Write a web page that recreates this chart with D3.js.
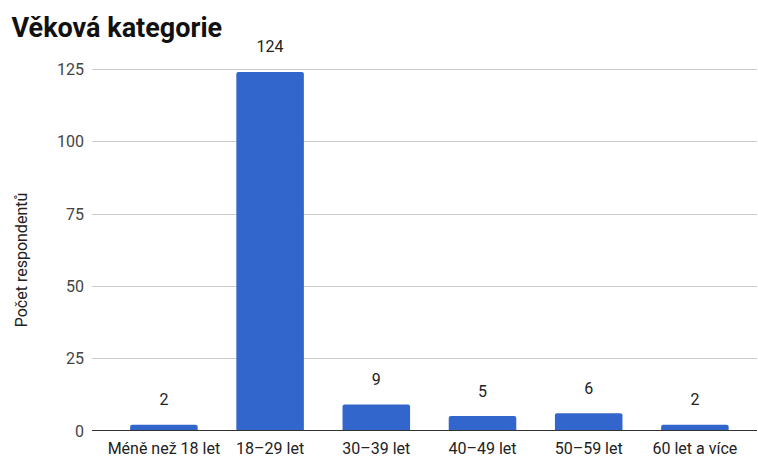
<!DOCTYPE html>
<html>
<head>
<meta charset="utf-8">
<script src="https://cdn.jsdelivr.net/npm/d3@7"></script>
<style>
  body { margin: 0; background: #fff; }
  text { font-family: Roboto, "Noto Sans", sans-serif; }
</style>
</head>
<body>
<div id="chart"></div>
<script>
// data
const categories = ["Méně než 18 let", "18–29 let", "30–39 let", "40–49 let", "50–59 let", "60 let a více"];
const counts = [2, 124, 9, 5, 6, 2];
const yTicks = [0, 25, 50, 75, 100, 125];

const width = 758,
  height = 458;

const svg = d3.select("#chart")
  .append("svg")
  .attr("width", width)
  .attr("height", height);

// scales
const x = d3.scaleBand()
  .domain(categories)
  .range([110.8, 748])
  .paddingInner(0.364)
  .paddingOuter(0.182);

const y = d3.scaleLinear()
  .domain([0, 125])
  .range([430.5, 69]);

// gridlines
svg.append("g")
  .selectAll("line")
  .data(yTicks.filter(d => d !== 0))
  .join("line")
  .attr("x1", 92)
  .attr("x2", 757)
  .attr("y1", d => Math.round(y(d)) + 0.5)
  .attr("y2", d => Math.round(y(d)) + 0.5)
  .attr("stroke", "#cccccc")
  .attr("stroke-width", 1);

// y tick labels
svg.append("g")
  .selectAll("text")
  .data(yTicks)
  .join("text")
  .attr("x", 84)
  .attr("y", d => y(d) + 6)
  .attr("text-anchor", "end")
  .style("font-size", "16px")
  .style("fill", "#444")
  .text(d => d);

// bars with slightly rounded tops
const r = 2;
svg.append("g")
  .selectAll("path")
  .data(counts)
  .join("path")
  .attr("fill", "#3366cc")
  .attr("d", (d, i) => {
    const x0 = x(categories[i]), w = x.bandwidth();
    const y0 = y(d), yb = y(0);
    return `M${x0},${yb} V${y0 + r} Q${x0},${y0} ${x0 + r},${y0} H${x0 + w - r} Q${x0 + w},${y0} ${x0 + w},${y0 + r} V${yb} Z`;
  });

// baseline
svg.append("line")
  .attr("x1", 92)
  .attr("x2", 757)
  .attr("y1", 430.5)
  .attr("y2", 430.5)
  .attr("stroke", "#333")
  .attr("stroke-width", 1);

// value labels
svg.append("g")
  .selectAll("text")
  .data(counts)
  .join("text")
  .attr("x", (d, i) => x(categories[i]) + x.bandwidth() / 2)
  .attr("y", d => y(d) - 19.5)
  .attr("text-anchor", "middle")
  .style("font-size", "16px")
  .style("fill", "#222")
  .text(d => d);

// category labels
svg.append("g")
  .selectAll("text")
  .data(categories)
  .join("text")
  .attr("x", d => x(d) + x.bandwidth() / 2)
  .attr("y", 454)
  .attr("text-anchor", "middle")
  .style("font-size", "16px")
  .style("fill", "#222")
  .text(d => d);

// axis title
svg.append("text")
  .attr("transform", "translate(27,260) rotate(-90)")
  .attr("text-anchor", "middle")
  .style("font-size", "16px")
  .style("fill", "#222")
  .text("Počet respondentů");

// title
svg.append("text")
  .attr("x", 11.5)
  .attr("y", 37)
  .style("font-size", "27px")
  .style("font-weight", "bold")
  .style("fill", "#111")
  .text("Věková kategorie");
</script>
</body>
</html>
